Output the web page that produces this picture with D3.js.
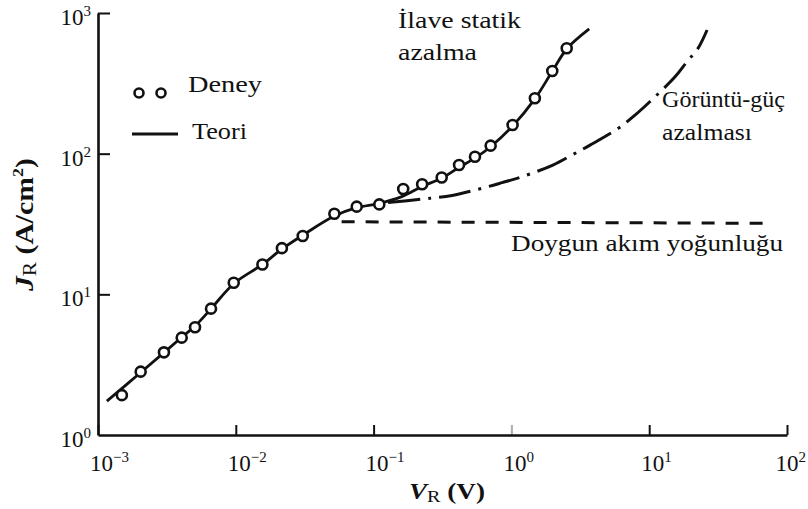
<!DOCTYPE html>
<html>
<head>
<meta charset="utf-8">
<script src="https://cdn.jsdelivr.net/npm/d3@7"></script>
<style>
  html, body { margin: 0; padding: 0; background: #fff; }
  svg { display: block; }
</style>
</head>
<body>
<svg id="chart" width="808" height="509"></svg>
<script>
// Measured reverse current density vs. reverse bias (Schottky diode)
const deneyV = [0.00149, 0.00204, 0.00301, 0.00405, 0.00506, 0.00661, 0.00966, 0.0156, 0.0216, 0.0306,
                0.0519, 0.0754, 0.110, 0.164, 0.225, 0.312, 0.417, 0.544, 0.707, 1.02, 1.48, 1.98, 2.52];
const deneyJ = [1.92, 2.82, 3.87, 4.92, 5.83, 7.91, 12.1, 16.3, 21.3, 26.0,
                37.4, 42.0, 43.6, 56.1, 60.6, 67.7, 83.0, 95.1, 114, 160, 248, 387, 561];

// Theory curve (with static lowering)
const teoriV = [0.00116, 0.00204, 0.00301, 0.00405, 0.00506, 0.00661, 0.00966, 0.0156, 0.0216, 0.0306,
                0.0519, 0.0754, 0.110, 0.160, 0.225, 0.312, 0.417, 0.544, 0.707, 1.02, 1.48, 1.98, 2.52, 3.67];
const teoriJ = [1.74, 2.78, 3.85, 4.95, 5.95, 7.9, 11.9, 16.3, 21.0, 26.3,
                36.0, 41.3, 44.3, 49.5, 58.5, 67.0, 80.0, 93.0, 112, 157, 245, 385, 555, 770];

// Image-force lowering only
const goruntuV = [0.110, 0.257, 0.371, 0.622, 0.855, 1.19, 2.00, 2.75, 3.72, 5.94, 7.89, 10.1, 15.4, 18.8, 22.6, 26.3];
const goruntuJ = [44.3, 48.2, 50.5, 57.0, 62.2, 68.5, 83.0, 97.8, 115, 151, 188, 234, 352, 451, 561, 757];

// Saturation current density
const doygunV = [0.0586, 72.8];
const doygunJ = [32.8, 32.0];

const xTicks = [1e-3, 1e-2, 1e-1, 1e0, 1e1, 1e2];
const xTickExp = ["\u22123", "\u22122", "\u22121", "0", "1", "2"];
const yTicks = [1e0, 1e1, 1e2, 1e3];
const yTickExp = ["0", "1", "2", "3"];

const FONT = "'Liberation Serif', 'Times New Roman', serif";

const svg = d3.select("#chart").attr("font-family", FONT);
const x = d3.scaleLog().domain([1e-3, 1e2]).range([98, 787]);
const y = d3.scaleLog().domain([1, 1e3]).range([435, 13]);

const stroke = "#111";

// Axes with inward ticks
const xAxis = svg.append("g").attr("transform", "translate(0,435)")
  .call(d3.axisBottom(x).tickValues(xTicks).tickSize(-10).tickSizeOuter(0).tickFormat(""));
const yAxis = svg.append("g").attr("transform", "translate(98,0)")
  .call(d3.axisLeft(y).tickValues(yTicks.slice(1)).tickSize(-12).tickSizeOuter(0).tickFormat(""));
[xAxis, yAxis].forEach(g => {
  g.select(".domain").attr("stroke", stroke).attr("stroke-width", 2.6);
  g.selectAll(".tick line").attr("stroke", stroke).attr("stroke-width", 2);
});
xAxis.selectAll(".tick line").filter(d => d === 1).attr("stroke-opacity", 0.35);

// "10^n" tick label
function label(px, py, exp, anchor) {
  const t = svg.append("text").attr("font-size", 23).attr("fill", stroke).attr("y", py);
  t.append("tspan").text("10");
  t.append("tspan").attr("dy", -9).attr("font-size", 15).text(exp);
  const w = t.node().getBBox().width;
  const x0 = anchor === "end" ? px - w : Math.min(px, 806 - w);
  t.attr("x", x0);
}
xTicks.forEach((t, i) => label(x(t) - 8, 471, xTickExp[i], "start"));
yTicks.forEach((t, i) => label(91, y(t) + 12, yTickExp[i], "end"));

// Axis titles, scaled along their run to the printed length
function title(transform, size, len) {
  const g = svg.append("g");
  const t = g.append("text").attr("font-size", size).attr("font-weight", "bold").attr("fill", stroke);
  return {t, fit() {
    const w = t.node().getBBox().width;
    g.attr("transform", `${transform} scale(${len / w},1)`);
  }};
}
const xt = title("translate(409,499)", 23, 76);
xt.t.append("tspan").attr("font-style", "italic").text("V");
xt.t.append("tspan").attr("font-size", 17).attr("font-weight", "normal").attr("dy", 3).text("R");
xt.t.append("tspan").attr("dy", -3).text(" (V)");
xt.fit();

const yt = title("translate(33,291) rotate(-90)", 25, 134);
yt.t.append("tspan").attr("font-style", "italic").text("J");
yt.t.append("tspan").attr("font-size", 18).attr("font-weight", "normal").attr("dy", 3).text("R");
yt.t.append("tspan").attr("dy", -3).text(" (A/cm");
yt.t.append("tspan").attr("dy", -10).attr("font-size", 15).text("2");
yt.t.append("tspan").attr("dy", 10).text(")");
yt.fit();

const line = d3.line().x(d => x(d[0])).y(d => y(d[1]));

// Saturation (dashed)
svg.append("path").datum(d3.zip(doygunV, doygunJ))
  .attr("d", line).attr("fill", "none").attr("stroke", stroke)
  .attr("stroke-width", 3).attr("stroke-dasharray", "13,11");

// Image-force lowering (dash-dot)
svg.append("path").datum(d3.zip(goruntuV, goruntuJ))
  .attr("d", line.curve(d3.curveCatmullRom)).attr("fill", "none").attr("stroke", stroke)
  .attr("stroke-width", 3).attr("stroke-dasharray", "32,8,3,8").attr("stroke-dashoffset", 42);

// Theory (solid)
svg.append("path").datum(d3.zip(teoriV, teoriJ))
  .attr("d", line.curve(d3.curveCatmullRom)).attr("fill", "none").attr("stroke", stroke)
  .attr("stroke-width", 2.8);

// Measured points
svg.append("g").selectAll("circle").data(d3.zip(deneyV, deneyJ)).join("circle")
  .attr("cx", d => x(d[0])).attr("cy", d => y(d[1])).attr("r", 5)
  .attr("fill", "#fff").attr("stroke", stroke).attr("stroke-width", 2.6);

// Legend
const leg = svg.append("g");
[139, 161].forEach(cx => leg.append("circle").attr("cx", cx).attr("cy", 93).attr("r", 4.5)
  .attr("fill", "#fff").attr("stroke", stroke).attr("stroke-width", 2.6));
leg.append("line").attr("x1", 132).attr("x2", 178).attr("y1", 134).attr("y2", 134)
  .attr("stroke", stroke).attr("stroke-width", 3);

// Annotations
const notes = [
  {t: "Deney", x: 188, y: 92, w: 74},
  {t: "Teori", x: 192, y: 139, w: 55},
  {t: "\u0130lave statik", x: 398, y: 28, w: 123},
  {t: "azalma", x: 398, y: 60, w: 79},
  {t: "G\u00f6r\u00fcnt\u00fc-g\u00fc\u00e7", x: 662, y: 107, w: 123},
  {t: "azalmas\u0131", x: 662, y: 140, w: 90},
  {t: "Doygun ak\u0131m yo\u011funlu\u011fu", x: 511, y: 251, w: 272}
];
svg.append("g").selectAll("text").data(notes).join("text")
  .attr("x", d => d.x).attr("y", d => d.y).attr("font-size", 23).attr("fill", stroke)
  .attr("textLength", d => d.w).attr("lengthAdjust", "spacingAndGlyphs")
  .text(d => d.t);
</script>
</body>
</html>
